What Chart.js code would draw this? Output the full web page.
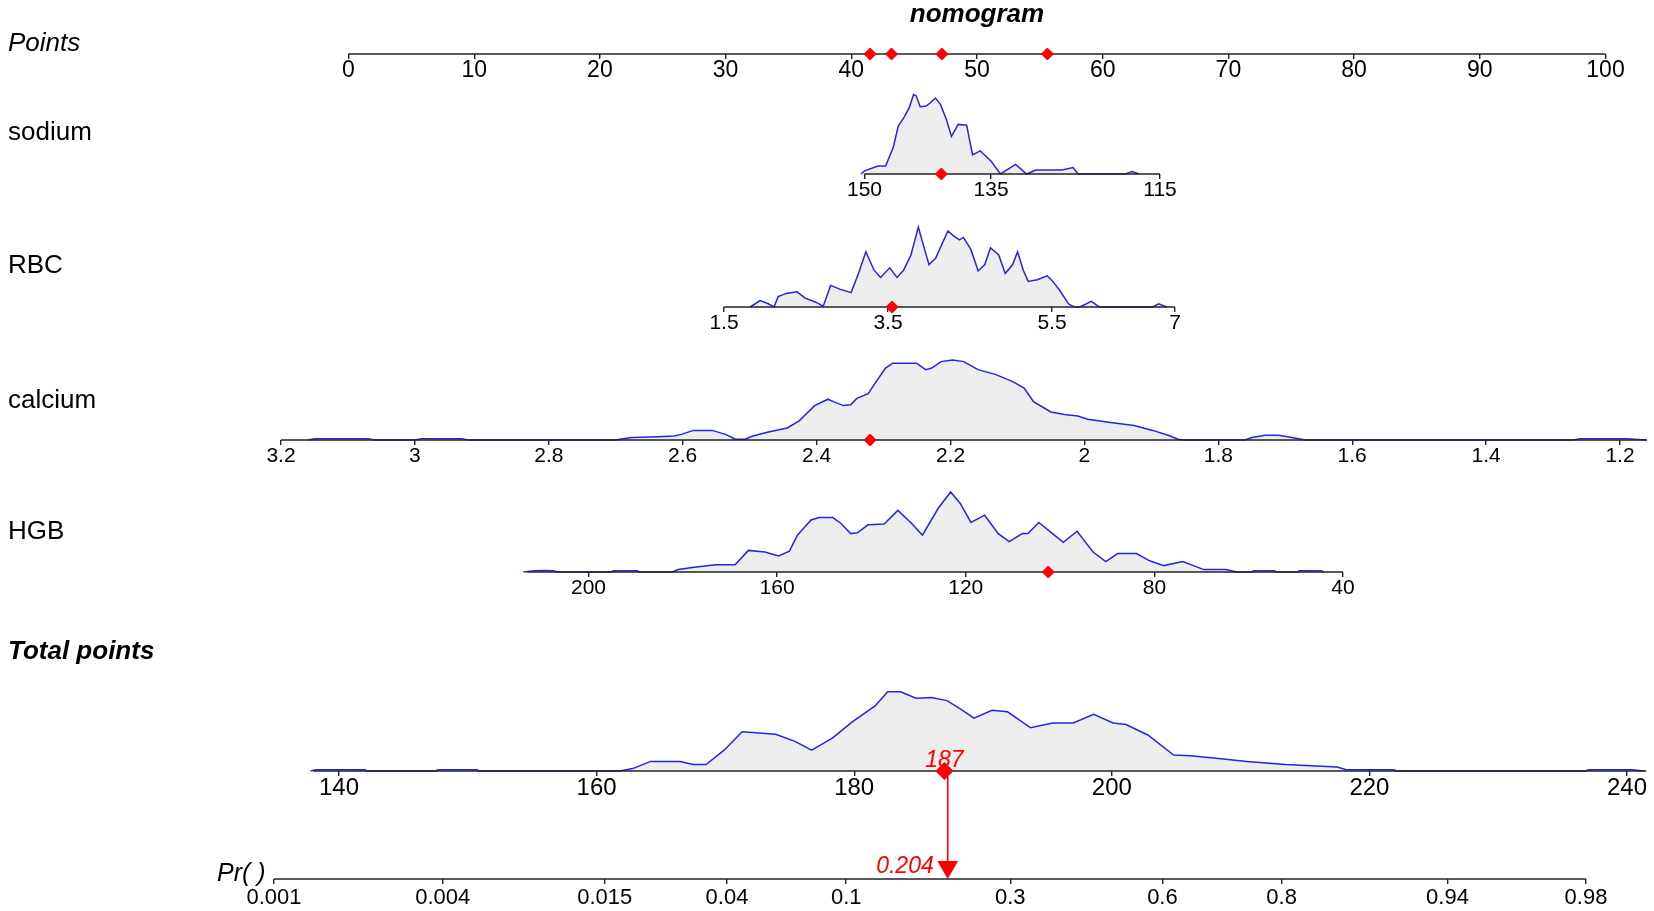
<!DOCTYPE html>
<html>
<head>
<meta charset="utf-8">
<title>nomogram</title>
<script src="https://cdn.jsdelivr.net/npm/chart.js@4.4.1/dist/chart.umd.min.js"></script>
<style>
  html, body { margin: 0; padding: 0; background: #ffffff; overflow: hidden; }
  #nomogram { display: block; }
</style>
</head>
<body>
<canvas id="nomogram" width="1654" height="911"></canvas>
<script>
// --- tick labels of every axis ---
const pointsTicks  = [0, 10, 20, 30, 40, 50, 60, 70, 80, 90, 100];
const sodiumTicks  = [150, 135, 115];
const rbcTicks     = [1.5, 3.5, 5.5, 7];
const calciumTicks = [3.2, 3, 2.8, 2.6, 2.4, 2.2, 2, 1.8, 1.6, 1.4, 1.2];
const hgbTicks     = [200, 160, 120, 80, 40];
const totalTicks   = [140, 160, 180, 200, 220, 240];
const prTicks      = [0.001, 0.004, 0.015, 0.04, 0.1, 0.3, 0.6, 0.8, 0.94, 0.98];

// --- ends of the black axis lines ---
const pointsRange  = [0, 100];
const sodiumRange  = [150, 115];
const rbcRange     = [1.5, 7];
const calciumRange = [3.2, 1.16];
const hgbRange     = [213, 40];
const totalRange   = [138, 241.5];
const prRange      = [0.001, 0.98];

// --- the case marked in red ---
const patientPoints  = [41.5, 43.2, 47.2, 55.6];   // calcium, RBC, sodium, HGB on the Points scale
const patientSodium  = 140.9;
const patientRbc     = 3.55;
const patientCalcium = 2.32;
const patientHgb     = 102.5;
const patientTotal   = 187;
const patientPr      = 0.204;

// --- density of each predictor: [value, relative height 0-100] ---
const sodiumDensity = [
  [150.4, 0], [150, 4], [148.4, 10], [147.5, 10], [146.6, 33], [146, 60], [145.3, 71], [144.7, 83],
  [144.2, 99], [143.9, 98], [143.4, 84], [142.7, 85], [142.2, 89], [141.6, 95], [141, 87], [140.3, 68],
  [139.7, 47], [138.9, 62], [137.9, 61], [137.2, 24], [136.3, 29], [135, 16], [133.9, 0], [132.1, 12],
  [130.8, 0], [129.7, 5], [126.6, 5], [125.3, 8], [124.7, 0], [119.1, 0], [118.3, 3], [117.5, 0]
];
const rbcDensity = [
  [1.82, 0], [1.94, 8], [2.04, 4], [2.11, 0], [2.16, 13], [2.26, 17], [2.39, 19], [2.49, 11],
  [2.62, 6], [2.71, 1], [2.80, 27], [2.92, 22], [3.05, 18], [3.14, 42], [3.23, 69], [3.33, 46],
  [3.41, 37], [3.52, 49], [3.61, 37], [3.69, 46], [3.78, 65], [3.87, 100], [3.93, 78], [4.00, 53],
  [4.08, 61], [4.23, 95], [4.30, 89], [4.37, 84], [4.42, 87], [4.51, 72], [4.60, 45], [4.68, 53],
  [4.75, 74], [4.85, 65], [4.93, 42], [5.02, 53], [5.08, 69], [5.15, 46], [5.21, 32], [5.32, 34],
  [5.44, 39], [5.51, 32], [5.60, 20], [5.70, 4], [5.77, 0], [5.84, 0], [5.98, 7], [6.08, 0],
  [6.73, 0], [6.80, 4], [6.90, 0]
];
const calciumDensity = [
  [3.16, 0], [3.15, 1.5], [3.07, 1.5], [3.06, 0], [3.0, 0], [2.99, 1.5], [2.93, 1.5], [2.92, 0],
  [2.70, 0], [2.694, 1], [2.676, 3], [2.636, 4], [2.613, 5], [2.602, 7], [2.584, 12], [2.556, 12],
  [2.536, 7], [2.521, 1], [2.507, 1], [2.495, 5], [2.472, 10], [2.444, 15], [2.426, 24], [2.403, 43],
  [2.383, 51], [2.375, 48], [2.36, 43], [2.349, 44], [2.34, 52], [2.323, 58], [2.311, 73], [2.297, 90],
  [2.286, 96], [2.271, 96], [2.251, 96], [2.237, 88], [2.228, 90], [2.214, 98], [2.197, 100], [2.18, 98],
  [2.159, 88], [2.133, 82], [2.107, 73], [2.09, 65], [2.076, 48], [2.05, 35], [2.03, 32], [2.01, 30],
  [1.995, 26], [1.961, 22], [1.926, 18], [1.898, 12], [1.875, 6], [1.86, 1], [1.85, 0], [1.76, 0],
  [1.75, 3], [1.73, 6], [1.71, 6], [1.69, 3], [1.67, 0], [1.27, 0], [1.26, 1.5], [1.19, 1.5], [1.16, 0]
];
const hgbDensity = [
  [213.8, 0], [211.5, 1.5], [209.2, 2], [207.5, 1.5], [206.5, 0], [195, 0], [194.8, 1.5], [189.6, 1.5],
  [189.4, 0], [182.2, 0], [181, 3], [177.6, 6], [173, 9], [168.9, 9], [166.1, 27], [162.6, 25],
  [159.7, 20], [157.4, 26], [155.7, 46], [152.8, 65], [151.1, 68], [148.2, 68], [146.5, 61], [144.4, 48],
  [143, 49], [140.7, 59], [137.3, 60], [134.4, 77], [131.5, 61], [129.2, 46], [125.8, 80], [123.2, 100],
  [121.2, 86], [118.9, 62], [116, 71], [113.1, 48], [110.8, 38], [108, 48], [106.8, 48], [104.5, 62],
  [101.6, 48], [99.3, 37], [96.4, 51], [93, 25], [90.3, 13], [87.8, 23], [83.8, 23], [81, 14],
  [78, 8], [74, 13], [69.5, 3], [64.8, 3], [62.5, 0], [59.2, 0], [59, 1.5], [54.5, 1.5],
  [54.3, 0], [49.5, 0], [49.3, 1.5], [44.6, 1.5], [44.1, 0]
];
const totalDensity = [
  [137.8, 0], [138.2, 1.5], [142, 1.5], [142.2, 0], [147.5, 0], [147.7, 1.5], [150.7, 1.5], [150.9, 0],
  [161.8, 0], [162.8, 3], [164.2, 12], [166.5, 12], [167.5, 8], [168.5, 8], [169.9, 26], [171.3, 49],
  [173.9, 46], [175.4, 37], [176.7, 26], [178.3, 41], [179.9, 62], [181.6, 81], [182.6, 99], [183.6, 99],
  [184.8, 91], [186, 92], [187.2, 88], [188.3, 77], [189.3, 66], [190.7, 76], [191.9, 74], [193.7, 54],
  [195.4, 60], [197, 60], [198.6, 71], [200.1, 60], [201.1, 58], [202.8, 45], [204.8, 20], [206.1, 19],
  [208.1, 16], [210.5, 12], [213.5, 8], [217.5, 5], [218.2, 1.5], [221.9, 1.5], [222.1, 0], [236.8, 0],
  [237, 1.5], [240.4, 1.5], [241.3, 0]
];

const titleText = 'nomogram';
const rowNames  = ['Points', 'sodium', 'RBC', 'calcium', 'HGB', 'Total points', 'Pr( )'];

// =================================================================
// layout (pixels on the 1654x911 page)
// =================================================================
const W = 1654, H = 911;
const FONT = '"Liberation Sans", Arial, sans-serif';
const PEAK = 80;   // height of a density at 100

function logit(p) { return Math.log(p / (1 - p)); }

// base = y of the axis line, label = y of the row name,
// a / b = two [value, x pixel] anchors that fix the scale
const ROWS = {
  points:  { base: 54,  label: 44,  lx: 8,   font: 'italic 26px', tick: 23, pad: 0, a: [0, 348.5],   b: [100, 1605.5] },
  sodium:  { base: 174, label: 133, lx: 8,   font: '26px',        tick: 21, pad: 1, a: [150, 864.5], b: [115, 1160] },
  rbc:     { base: 307, label: 266, lx: 8,   font: '26px',        tick: 21, pad: 1, a: [1.5, 724],   b: [7, 1175] },
  calcium: { base: 440, label: 401, lx: 8,   font: '26px',        tick: 21, pad: 1, a: [3.2, 281],   b: [1.2, 1620] },
  hgb:     { base: 572, label: 532, lx: 8,   font: '26px',        tick: 21, pad: 1, a: [200, 588.5], b: [40, 1343] },
  total:   { base: 771, label: 652, lx: 8,   font: 'italic bold 26px', tick: 24, pad: 0, a: [140, 339], b: [240, 1627] },
  pr:      { base: 879, label: 874, lx: 217, font: 'italic 25px', tick: 22, pad: 3, a: [logit(0.001), 274], b: [logit(0.98), 1586] }
};
const ROW_KEYS = Object.keys(ROWS);

// x scale whose pixel for value a[0] is a[1] and for b[0] is b[1]
function fitX(a, b) {
  const k = (b[1] - a[1]) / (b[0] - a[0]);
  const v0 = a[0] - a[1] / k, v1 = a[0] + (W - a[1]) / k;
  return k > 0 ? { min: v0, max: v1, reverse: false } : { min: v1, max: v0, reverse: true };
}
// y scale with density 0 on the baseline and 100 at PEAK px above it
function fitRow(base) {
  const per = PEAK / 100;
  return { min: -(H - base) / per, max: base / per };
}
// keep the chart area on the whole canvas
function noPadding(axis) {
  axis.paddingLeft = axis.paddingRight = axis.paddingTop = axis.paddingBottom = 0;
}

const tickSets = {
  points: pointsTicks, sodium: sodiumTicks, rbc: rbcTicks, calcium: calciumTicks,
  hgb: hgbTicks, total: totalTicks, pr: prTicks
};

const scales = {
  y_page: { type: 'linear', axis: 'y', display: false, min: 0, max: H, reverse: true, afterFit: noPadding }
};
ROW_KEYS.forEach(key => {
  const r = ROWS[key];
  const fx = fitX(r.a, r.b);
  const fy = fitRow(r.base);
  const labels = tickSets[key];
  const values = key === 'pr' ? labels.map(logit) : labels;
  scales['y_' + key] = { type: 'linear', axis: 'y', display: false, min: fy.min, max: fy.max, afterFit: noPadding };
  scales['x_' + key] = {
    type: 'linear', axis: 'x',
    min: fx.min, max: fx.max, reverse: fx.reverse,
    position: { ['y_' + key]: 0 },
    border: { display: false },
    grid: { drawOnChartArea: false, drawTicks: true, tickLength: 5, color: '#222', lineWidth: 1.4 },
    afterBuildTicks: axis => { axis.ticks = values.map(v => ({ value: v })); },
    afterFit: noPadding,
    ticks: {
      autoSkip: false, maxRotation: 0, minRotation: 0, padding: r.pad, color: '#000',
      font: { family: FONT, size: r.tick, lineHeight: 1 },
      callback: (v, i) => String(labels[i])
    }
  };
});

// =================================================================
// datasets (first in the list is drawn on top)
// =================================================================
const RED = '#ff0000';
const datasets = [];

function marker(key, values, radius) {
  return {
    data: values.map(v => ({ x: v, y: 0 })),
    xAxisID: 'x_' + key, yAxisID: 'y_' + key,
    showLine: false, pointRadius: radius, pointStyle: 'rectRot',
    pointBackgroundColor: RED, pointBorderColor: RED, pointBorderWidth: 1
  };
}
datasets.push(marker('points', patientPoints, 6));
datasets.push(marker('sodium', [patientSodium], 6));
datasets.push(marker('rbc', [patientRbc], 6));
datasets.push(marker('calcium', [patientCalcium], 6));
datasets.push(marker('hgb', [patientHgb], 6));
datasets.push(marker('total', [patientTotal], 8.5));

// red drop line from the total points to the probability, with arrow head
const ARROW = 12;
datasets.push({
  data: [
    { x: logit(patientPr), y: ROWS.total.base },
    { x: logit(patientPr), y: ROWS.pr.base - ARROW }
  ],
  xAxisID: 'x_pr', yAxisID: 'y_page',
  borderColor: RED, borderWidth: 1.6,
  pointRadius: [0, ARROW], pointStyle: 'triangle', rotation: 180,
  pointBackgroundColor: RED, pointBorderColor: RED, pointBorderWidth: 0
});

// black axis lines
const ranges = {
  points: pointsRange, sodium: sodiumRange, rbc: rbcRange, calcium: calciumRange,
  hgb: hgbRange, total: totalRange, pr: prRange.map(logit)
};
ROW_KEYS.forEach(key => {
  datasets.push({
    data: ranges[key].map(v => ({ x: v, y: 0 })),
    xAxisID: 'x_' + key, yAxisID: 'y_' + key,
    borderColor: '#222', borderWidth: 1.7, pointRadius: 0
  });
});

// densities
const densities = {
  sodium: sodiumDensity, rbc: rbcDensity, calcium: calciumDensity, hgb: hgbDensity, total: totalDensity
};
Object.keys(densities).forEach(key => {
  datasets.push({
    data: densities[key].map(p => ({ x: p[0], y: p[1] })),
    xAxisID: 'x_' + key, yAxisID: 'y_' + key,
    borderColor: '#2424e6', borderWidth: 1.5, backgroundColor: '#ededed',
    fill: 'origin', pointRadius: 0, tension: 0
  });
});

// =================================================================
// texts: title, row names, red values
// =================================================================
const textPlugin = {
  id: 'nomogramText',
  afterDraw(chart) {
    const ctx = chart.ctx, s = chart.scales;
    ctx.save();
    ctx.fillStyle = '#000';
    ctx.textBaseline = 'middle';
    ctx.textAlign = 'center';
    ctx.font = 'italic bold 26px ' + FONT;
    ctx.fillText(titleText, s.x_points.getPixelForValue(50), 15);

    ctx.textAlign = 'left';
    ROW_KEYS.forEach((key, i) => {
      const r = ROWS[key];
      ctx.font = r.font + ' ' + FONT;
      ctx.fillText(rowNames[i], r.lx, r.label);
    });

    ctx.fillStyle = RED;
    ctx.font = 'italic 23px ' + FONT;
    ctx.textBaseline = 'alphabetic';
    ctx.textAlign = 'center';
    ctx.fillText(String(patientTotal), s.x_total.getPixelForValue(patientTotal), ROWS.total.base - 4);
    ctx.textAlign = 'right';
    ctx.fillText(String(patientPr), s.x_pr.getPixelForValue(logit(patientPr)) - 14, ROWS.pr.base - 6);
    ctx.restore();
  }
};

new Chart(document.getElementById('nomogram'), {
  type: 'line',
  data: { datasets },
  options: {
    responsive: false,
    animation: false,
    devicePixelRatio: 1,
    events: [],
    layout: { padding: 0, autoPadding: false },
    plugins: { legend: { display: false }, tooltip: { enabled: false }, title: { display: false } },
    scales
  },
  plugins: [textPlugin]
});
</script>
</body>
</html>
